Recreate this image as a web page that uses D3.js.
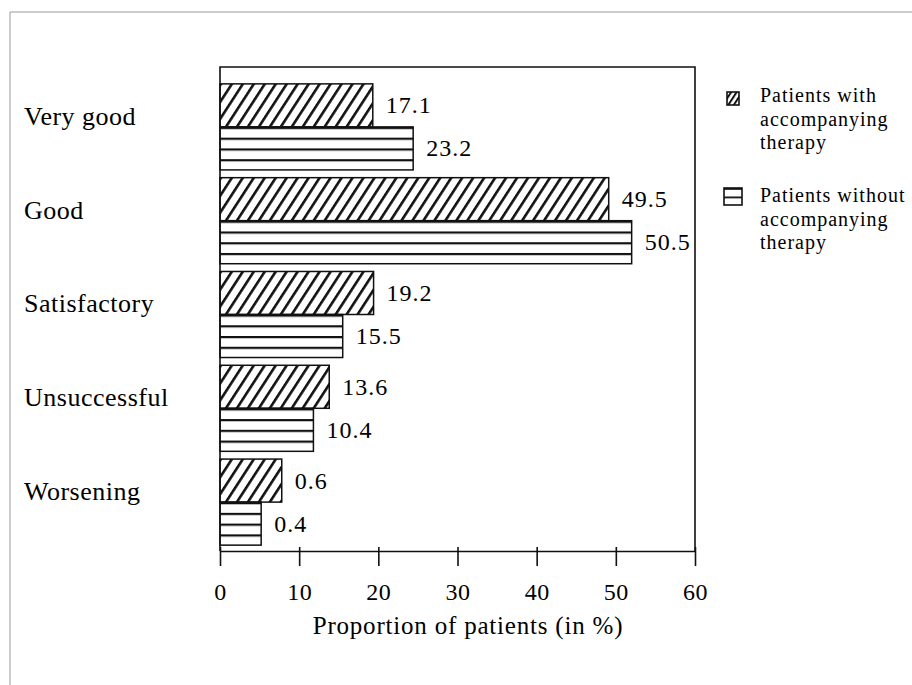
<!DOCTYPE html>
<html>
<head>
<meta charset="utf-8">
<script src="https://cdn.jsdelivr.net/npm/d3@7"></script>
<style>
  body { margin: 0; background: #fff; }
  text { font-family: 'Liberation Serif', 'Times New Roman', serif; fill: #000; }
</style>
</head>
<body>
<div id="chart"></div>
<script>
// values
const categories = ['Very good', 'Good', 'Satisfactory', 'Unsuccessful', 'Worsening']
const series = ['with', 'without']
// bar lengths as drawn
const withTherapy = [19.3, 49.1, 19.4, 13.8, 7.8]
const withoutTherapy = [24.4, 52.0, 15.5, 11.8, 5.2]
// numbers printed next to the bars
const withLabels = ['17.1', '49.5', '19.2', '13.6', '0.6']
const withoutLabels = ['23.2', '50.5', '15.5', '10.4', '0.4']
const xTicks = [0, 10, 20, 30, 40, 50, 60]
const legendLines = [
  ['Patients with', 'accompanying', 'therapy'],
  ['Patients without', 'accompanying', 'therapy']
]

const width = 912
const height = 685

const svg = d3.select('#chart').append('svg')
  .attr('width', width)
  .attr('height', height)

const defs = svg.append('defs')

// diagonal hatch
const hatch = (id, step, w) => {
  const p = defs.append('pattern')
    .attr('id', id)
    .attr('patternUnits', 'userSpaceOnUse')
    .attr('width', step)
    .attr('height', 20)
    .attr('patternTransform', 'rotate(33)')
  p.append('rect').attr('width', step).attr('height', 20).attr('fill', '#fff')
  p.append('rect').attr('width', w).attr('height', 20).attr('fill', '#111')
}
hatch('diag', 9.2, 2.6)
hatch('diagKey', 4.6, 2)

// horizontal stripes, n per shape
const stripes = (id, frac, w) => {
  const p = defs.append('pattern')
    .attr('id', id)
    .attr('patternUnits', 'objectBoundingBox')
    .attr('patternContentUnits', 'userSpaceOnUse')
    .attr('width', 1)
    .attr('height', frac)
  p.append('rect').attr('width', 1000).attr('height', 100).attr('fill', '#fff')
  p.append('rect').attr('width', 1000).attr('height', w).attr('fill', '#111')
}
stripes('horiz', 0.25, 2.2)
stripes('horizKey', 0.5, 1.8)

// faint border of the scanned page
svg.append('path')
  .attr('d', `M10,${height} V12 H${width}`)
  .attr('fill', 'none')
  .attr('stroke', '#999')
  .attr('stroke-width', 1)

const x = d3.scaleLinear().domain([0, 60]).range([220, 695])
const y = d3.scaleBand().domain(categories).range([80, 549])
  .paddingInner(0.0827).paddingOuter(0.04135)
const ySub = d3.scaleBand().domain(series).range([0, y.bandwidth()])

const plotTop = 67
const plotBottom = 551

const rows = categories.map((c, i) => ({
  cat: c,
  bars: [
    { key: 'with', value: withTherapy[i], label: withLabels[i] },
    { key: 'without', value: withoutTherapy[i], label: withoutLabels[i] }
  ]
}))

const fills = { with: 'url(#diag)', without: 'url(#horiz)' }

const group = svg.append('g')
  .selectAll('g')
  .data(rows)
  .enter().append('g')
  .attr('transform', d => `translate(0,${y(d.cat)})`)

group.selectAll('rect')
  .data(d => d.bars)
  .enter().append('rect')
  .attr('x', x(0))
  .attr('y', d => ySub(d.key))
  .attr('width', d => x(d.value) - x(0))
  .attr('height', ySub.bandwidth())
  .attr('fill', d => fills[d.key])
  .attr('stroke', '#111')
  .attr('stroke-width', 1.5)

group.selectAll('text.val')
  .data(d => d.bars)
  .enter().append('text')
  .attr('class', 'val')
  .attr('x', d => x(d.value) + 13)
  .attr('y', d => ySub(d.key) + ySub.bandwidth() / 2 + 8)
  .attr('font-size', 24)
  .attr('letter-spacing', 1)
  .text(d => d.label)

group.append('text')
  .attr('x', 24)
  .attr('y', y.bandwidth() / 2 - 2)
  .attr('font-size', 26)
  .attr('letter-spacing', 0.5)
  .text(d => d.cat)

// plot frame
svg.append('path')
  .attr('d', `M${x(0)},${plotBottom} V${plotTop} H${x(60)} V${plotBottom}`)
  .attr('fill', 'none')
  .attr('stroke', '#111')
  .attr('stroke-width', 1.6)

const axis = svg.append('g')
  .attr('transform', `translate(0,${plotBottom})`)
  .call(d3.axisBottom(x).tickValues(xTicks).tickSizeInner(15).tickSizeOuter(0).tickPadding(0))

axis.select('.domain').attr('stroke', '#111').attr('stroke-width', 1.6)
axis.selectAll('.tick line').attr('stroke', '#111').attr('stroke-width', 1.6).attr('y1', -4)
axis.selectAll('.tick text')
  .attr('font-family', "'Liberation Serif', serif")
  .attr('font-size', 24)
  .attr('fill', '#000')
  .attr('y', 49)
  .attr('dy', 0)
  .attr('letter-spacing', 0.5)

svg.append('text')
  .attr('x', 468)
  .attr('y', 634)
  .attr('text-anchor', 'middle')
  .attr('font-size', 25)
  .attr('letter-spacing', 0.8)
  .text('Proportion of patients (in %)')

// legend
const legend = svg.append('g')
  .selectAll('g')
  .data(legendLines)
  .enter().append('g')
  .attr('transform', (d, i) => `translate(0,${i * 100})`)

legend.append('rect')
  .attr('x', (d, i) => i === 0 ? 727 : 724)
  .attr('y', (d, i) => i === 0 ? 92 : 88)
  .attr('width', (d, i) => i === 0 ? 12 : 18)
  .attr('height', (d, i) => i === 0 ? 13 : 17)
  .attr('fill', (d, i) => i === 0 ? 'url(#diagKey)' : 'url(#horizKey)')
  .attr('stroke', '#111')
  .attr('stroke-width', 1.6)

legend.selectAll('text')
  .data(d => d)
  .enter().append('text')
  .attr('x', 760)
  .attr('y', (d, j) => 102 + j * 23.5)
  .attr('font-size', 20)
  .attr('letter-spacing', 1)
  .text(d => d)
</script>
</body>
</html>
